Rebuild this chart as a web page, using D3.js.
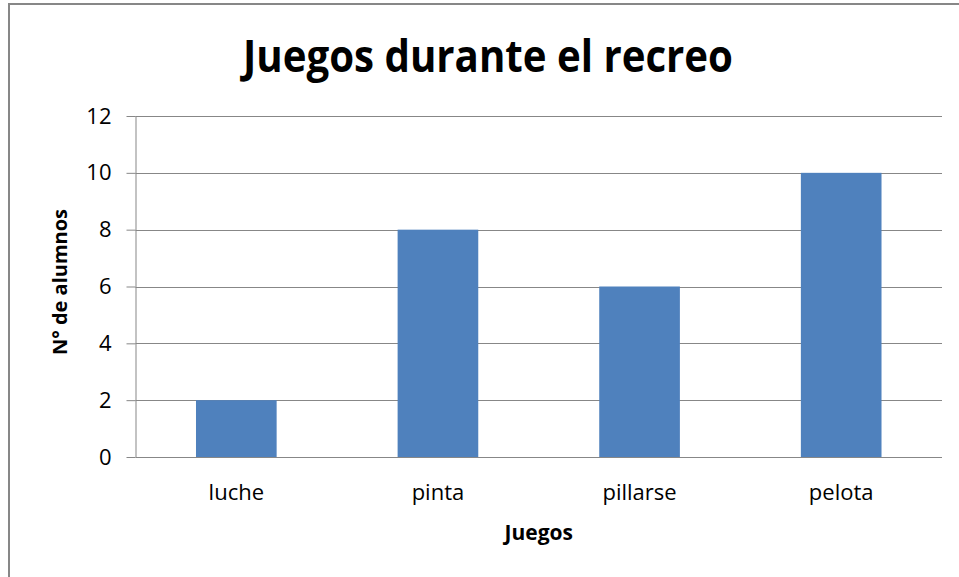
<!DOCTYPE html>
<html>
<head>
<meta charset="utf-8">
<script src="https://cdn.jsdelivr.net/npm/d3@7"></script>
<style>
  html, body { margin: 0; padding: 0; background: #fff; }
  svg { display: block; font-family: "Open Sans", sans-serif; }
</style>
</head>
<body>
<div id="chart"></div>
<script>
const categories = ['luche', 'pinta', 'pillarse', 'pelota'];
const values = [2, 8, 6, 10];
const yTicks = [0, 2, 4, 6, 8, 10, 12];

const width = 959;
const height = 577;
const margin = { top: 116, right: 17, bottom: 120, left: 135.5 };

const svg = d3.select('#chart')
  .append('svg')
  .attr('width', width)
  .attr('height', height);

// chart frame
svg.append('rect')
  .attr('x', 9)
  .attr('y', 4)
  .attr('width', width + 10)
  .attr('height', height + 10)
  .attr('fill', 'none')
  .attr('stroke', '#878787')
  .attr('stroke-width', 2);

const x = d3.scaleBand()
  .domain(categories)
  .range([margin.left, width - margin.right])
  .paddingInner(0.6)
  .paddingOuter(0.3);

const y = d3.scaleLinear()
  .domain([0, 12])
  .range([height - margin.bottom, margin.top]);

// gridlines + y axis
const yAxis = svg.append('g')
  .attr('transform', `translate(${margin.left},0)`)
  .call(d3.axisLeft(y).tickValues(yTicks).tickSize(9).tickPadding(15)
    .tickFormat(d3.format('d')));
yAxis.select('.domain').attr('stroke', '#878787').attr('d', `M0.5,${y(12)}V${y(0)}`);
yAxis.selectAll('.tick line').attr('stroke', '#878787');
yAxis.selectAll('.tick text')
  .attr('font-size', 22)
  .attr('fill', '#000')
  .attr('font-family', '"Open Sans", sans-serif');

svg.append('g')
  .selectAll('line')
  .data(yTicks)
  .enter()
  .append('line')
  .attr('x1', margin.left)
  .attr('x2', width - margin.right)
  .attr('y1', d => Math.round(y(d)) + 0.5)
  .attr('y2', d => Math.round(y(d)) + 0.5)
  .attr('stroke', '#878787')
  .attr('stroke-width', 1);

// bars
svg.append('g')
  .selectAll('rect')
  .data(values)
  .enter()
  .append('rect')
  .attr('x', (d, i) => x(categories[i]))
  .attr('y', d => y(d))
  .attr('width', x.bandwidth())
  .attr('height', d => y(0) - y(d))
  .attr('fill', '#4f81bd');

// category labels
svg.append('g')
  .selectAll('text')
  .data(categories)
  .enter()
  .append('text')
  .attr('x', d => x(d) + x.bandwidth() / 2)
  .attr('y', 500)
  .attr('text-anchor', 'middle')
  .attr('font-size', 22)
  .attr('fill', '#000')
  .text(d => d);

// title
svg.append('text')
  .attr('x', 488)
  .attr('y', 72)
  .attr('text-anchor', 'middle')
  .attr('font-size', 44)
  .attr('font-weight', 'bold')
  .attr('textLength', 490)
  .attr('lengthAdjust', 'spacingAndGlyphs')
  .attr('fill', '#000')
  .text('Juegos durante el recreo');

// axis titles
svg.append('text')
  .attr('x', (margin.left + width - margin.right) / 2)
  .attr('y', 540)
  .attr('text-anchor', 'middle')
  .attr('font-size', 21)
  .attr('font-weight', 'bold')
  .attr('fill', '#000')
  .text('Juegos');

svg.append('text')
  .attr('transform', 'translate(67,282) rotate(-90)')
  .attr('text-anchor', 'middle')
  .attr('font-size', 20)
  .attr('font-weight', 'bold')
  .attr('fill', '#000')
  .text('N° de alumnos');
</script>
</body>
</html>
